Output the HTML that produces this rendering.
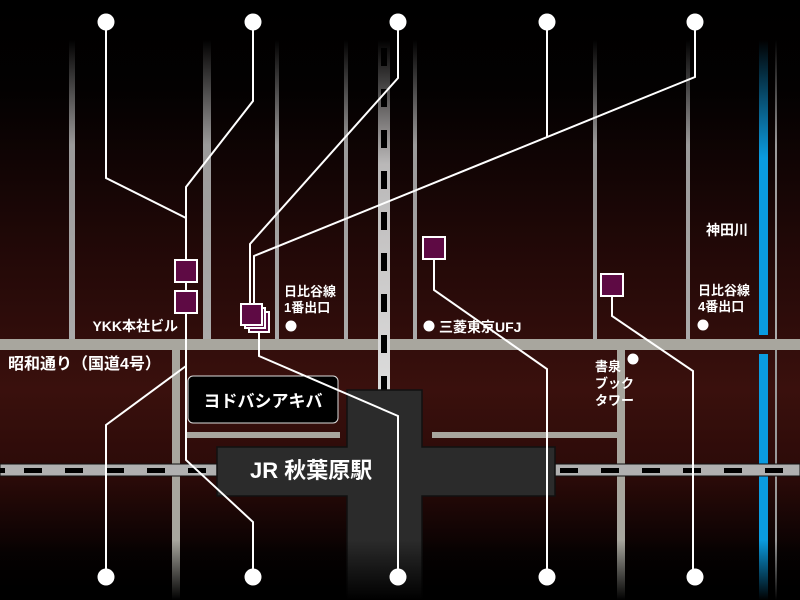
<!DOCTYPE html>
<html><head><meta charset="utf-8"><style>
html,body{margin:0;padding:0;background:#000;}
svg{display:block}
text{font-family:"Liberation Sans","Noto Sans CJK JP",sans-serif;font-weight:bold;fill:#fff;}
</style></head><body>
<svg width="800" height="600" xmlns="http://www.w3.org/2000/svg">
<defs>
<linearGradient id="bg" x1="0" y1="0" x2="0" y2="1">
<stop offset="0" stop-color="#000"/>
<stop offset="0.15" stop-color="#030101"/>
<stop offset="0.4" stop-color="#200807"/>
<stop offset="0.65" stop-color="#3a100d"/>
<stop offset="0.8" stop-color="#2a0a08"/>
<stop offset="0.92" stop-color="#080202"/>
<stop offset="1" stop-color="#000"/>
</linearGradient>
<linearGradient id="vr" x1="0" y1="0" x2="0" y2="1">
<stop offset="0" stop-color="#aaa" stop-opacity="0"/>
<stop offset="0.35" stop-color="#aaa" stop-opacity="0.9"/>
<stop offset="1" stop-color="#aaa"/>
</linearGradient>
<linearGradient id="vt" x1="0" y1="0" x2="0" y2="1">
<stop offset="0" stop-color="#ccc" stop-opacity="0"/>
<stop offset="0.35" stop-color="#ccc" stop-opacity="0.9"/>
<stop offset="1" stop-color="#ddd"/>
</linearGradient>
<linearGradient id="vb" x1="0" y1="0" x2="0" y2="1">
<stop offset="0" stop-color="#0a9be0" stop-opacity="0"/>
<stop offset="0.4" stop-color="#0a9be0"/>
<stop offset="1" stop-color="#0a9be0"/>
</linearGradient>
<linearGradient id="bot" x1="0" y1="0" x2="0" y2="1">
<stop offset="0" stop-color="#000" stop-opacity="0"/>
<stop offset="1" stop-color="#000"/>
</linearGradient>
</defs>
<rect width="800" height="600" fill="url(#bg)"/>
<g fill="url(#vr)">
<rect x="69" y="40" width="6" height="300"/>
<rect x="203" y="40" width="8" height="300"/>
<rect x="275" y="40" width="4" height="300"/>
<rect x="344" y="40" width="4" height="300"/>
<rect x="413" y="40" width="4" height="300"/>
<rect x="593" y="40" width="4" height="300"/>
<rect x="686" y="40" width="4" height="300"/>
<rect x="775" y="40" width="2" height="300"/>
</g>
<rect x="759" y="40" width="9" height="295" fill="url(#vb)"/>
<rect x="759" y="354" width="9" height="246" fill="#0a9be0"/>
<rect x="775" y="350" width="2" height="250" fill="#999"/>
<rect x="0" y="339" width="800" height="11" fill="#a8a69e"/>
<rect x="172" y="350" width="8" height="250" fill="#a8a69e"/>
<rect x="617" y="350" width="8" height="250" fill="#a8a69e"/>
<rect x="185" y="432" width="155" height="6" fill="#a8a69e"/>
<rect x="432" y="432" width="190" height="6" fill="#a8a69e"/>
<rect x="378" y="40" width="12" height="355" fill="url(#vt)"/>
<g fill="#000">
<rect x="381" y="48" width="6" height="18"/><rect x="381" y="89" width="6" height="18"/>
<rect x="381" y="130" width="6" height="18"/><rect x="381" y="171" width="6" height="18"/>
<rect x="381" y="212" width="6" height="18"/><rect x="381" y="253" width="6" height="18"/>
<rect x="381" y="294" width="6" height="18"/><rect x="381" y="335" width="6" height="18"/>
<rect x="381" y="376" width="6" height="18"/>
</g>
<rect x="0" y="464" width="800" height="12" fill="#b0b0b0" stroke="#111" stroke-width="1"/>
<g fill="#000">
<rect x="0" y="468" width="5" height="5"/><rect x="24" y="468" width="18" height="5"/><rect x="65" y="468" width="18" height="5"/>
<rect x="106" y="468" width="18" height="5"/><rect x="147" y="468" width="18" height="5"/><rect x="188" y="468" width="18" height="5"/>
<rect x="560" y="468" width="18" height="5"/><rect x="601" y="468" width="18" height="5"/><rect x="642" y="468" width="18" height="5"/>
<rect x="683" y="468" width="18" height="5"/><rect x="724" y="468" width="18" height="5"/><rect x="765" y="468" width="18" height="5"/>
</g>
<path d="M347 390H422V447H555V496H422V600H347V496H217V447H347Z" fill="#2b2b2b" stroke="#111" stroke-width="1.5"/>
<text x="250" y="478" font-size="22">JR 秋葉原駅</text>
<rect x="0" y="540" width="800" height="60" fill="url(#bot)"/>
<rect x="188" y="376" width="150" height="47" rx="5" fill="#000" stroke="#ddd" stroke-width="1"/>
<text x="263" y="407" font-size="17" text-anchor="middle">ヨドバシアキバ</text>
<g fill="none" stroke="#fff" stroke-width="2">
<polyline points="106,22 106,178 186,218 186,460 253,522 253,577"/>
<polyline points="253,22 253,101 186,187 186,220"/>
<polyline points="106,577 106,425 186,366"/>
<polyline points="398,22 398,78 250,244 250,304"/>
<polyline points="695,22 695,77 254,256 254,304"/>
<polyline points="547,22 547,137"/>
<polyline points="259,330 259,356 398,416 398,577"/>
<polyline points="434,259 434,290 547,369 547,577"/>
<polyline points="612,296 612,316 693,371 693,577"/>
</g>
<g fill="#fff">
<circle cx="106" cy="22" r="8.5"/><circle cx="253" cy="22" r="8.5"/><circle cx="398" cy="22" r="8.5"/><circle cx="547" cy="22" r="8.5"/><circle cx="695" cy="22" r="8.5"/>
<circle cx="106" cy="577" r="8.5"/><circle cx="253" cy="577" r="8.5"/><circle cx="398" cy="577" r="8.5"/><circle cx="547" cy="577" r="8.5"/><circle cx="695" cy="577" r="8.5"/>
<circle cx="291" cy="326" r="5.5"/><circle cx="429" cy="326" r="5.5"/><circle cx="703" cy="325" r="5.5"/><circle cx="633" cy="359" r="5.5"/>
</g>
<g fill="#5e0a44" stroke="#fff" stroke-width="2">
<rect x="175" y="260" width="22" height="22"/>
<rect x="175" y="291" width="22" height="22"/>
<rect x="249" y="312" width="20" height="20"/>
<rect x="245" y="308" width="20" height="20"/>
<rect x="241" y="304" width="21" height="21"/>
<rect x="423" y="237" width="22" height="22"/>
<rect x="601" y="274" width="22" height="22"/>
</g>
<text x="178" y="331" font-size="14" text-anchor="end">YKK本社ビル</text>
<text x="8" y="369" font-size="16">昭和通り（国道4号）</text>
<text x="284" y="296" font-size="13">日比谷線</text>
<text x="284" y="312" font-size="13">1番出口</text>
<text x="439" y="332" font-size="14">三菱東京UFJ</text>
<text x="706" y="235" font-size="14">神田川</text>
<text x="698" y="295" font-size="13">日比谷線</text>
<text x="698" y="311" font-size="13">4番出口</text>
<text x="595" y="371" font-size="13">書泉</text>
<text x="595" y="388" font-size="13">ブック</text>
<text x="595" y="405" font-size="13">タワー</text>
</svg>
</body></html>
